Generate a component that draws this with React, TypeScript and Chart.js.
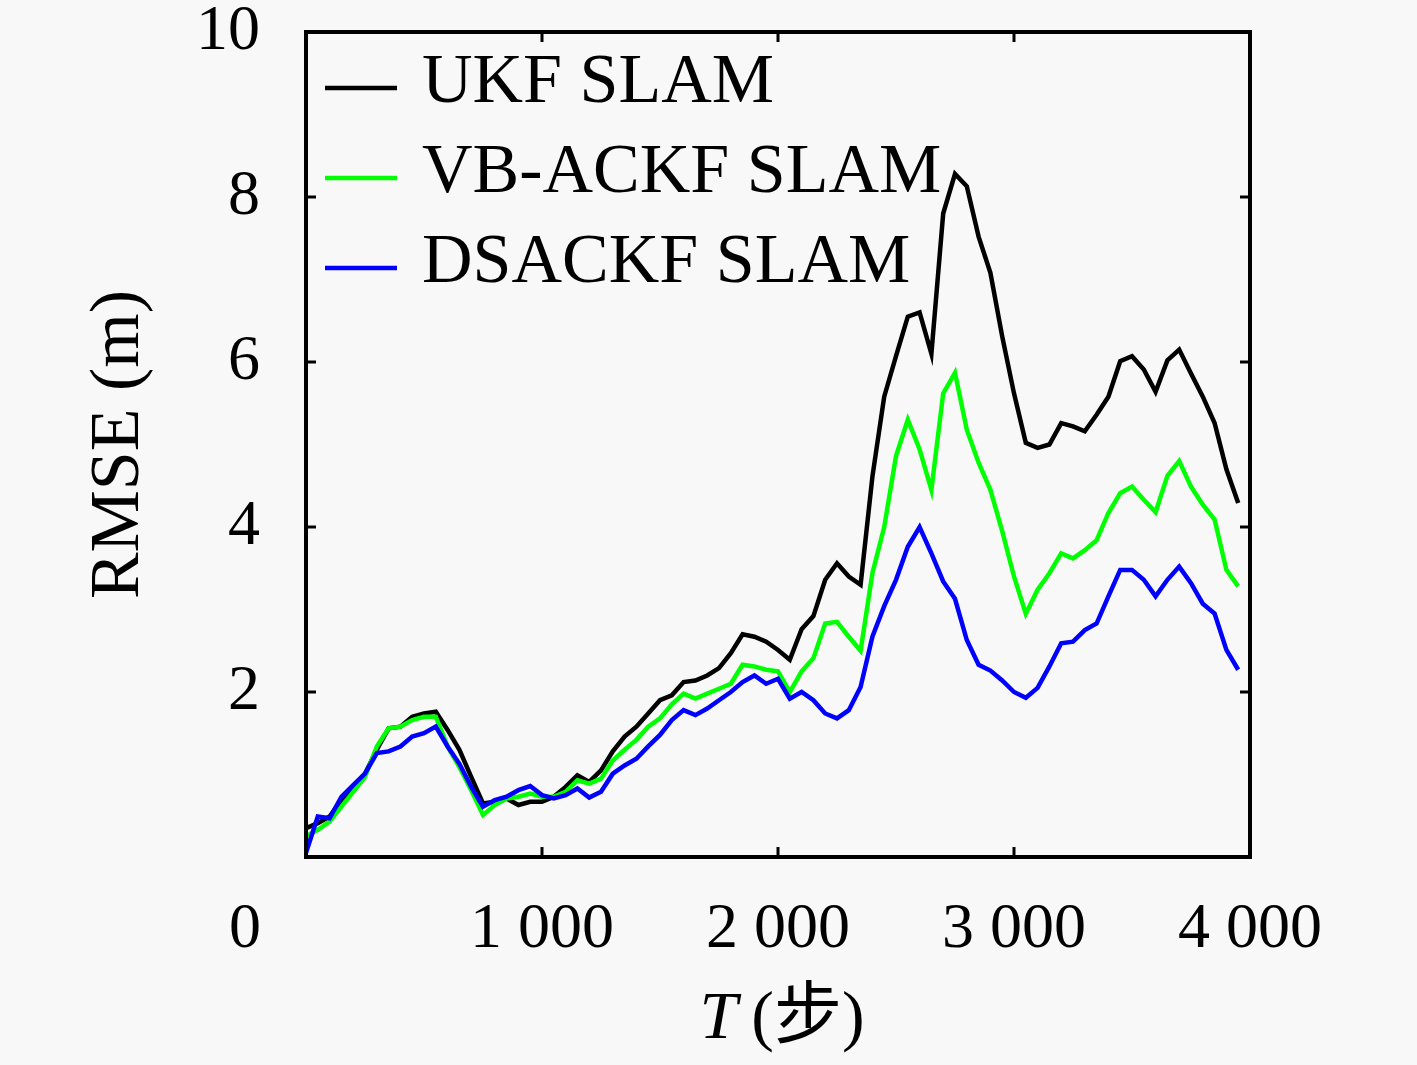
import { useEffect, useRef } from "react"
import { Chart, registerables } from "chart.js"

// Register Chart.js components
Chart.register(...registerables)

const SERIF = "'Liberation Serif', 'Noto Sans CJK SC', serif"

// Series (RMSE in metres, sampled every 50 steps from T = 0 to 3950)
const seriesLabels = ["UKF SLAM", "VB-ACKF SLAM", "DSACKF SLAM"]
const seriesColors = ["#000000", "#00ff00", "#0000ff"]

const ukf = [
  0.35, 0.41, 0.49, 0.69, 0.85, 1.01, 1.3, 1.56, 1.58, 1.7,
  1.74, 1.76, 1.54, 1.3, 0.97, 0.65, 0.67, 0.71, 0.63, 0.67,
  0.67, 0.73, 0.85, 0.99, 0.91, 1.05, 1.28, 1.46, 1.58, 1.74,
  1.9, 1.96, 2.12, 2.14, 2.2, 2.29, 2.47, 2.7, 2.67, 2.61,
  2.51, 2.39, 2.76, 2.92, 3.36, 3.56, 3.4, 3.3, 4.61, 5.58,
  6.07, 6.55, 6.6, 6.1, 7.8, 8.28, 8.13, 7.52, 7.08, 6.31,
  5.62, 5.02, 4.96, 5.0, 5.26, 5.22, 5.16, 5.36, 5.58, 6.01,
  6.07, 5.91, 5.64, 6.02, 6.15, 5.86, 5.58, 5.26, 4.7, 4.29,
]

const vbAckf = [
  0.25, 0.33, 0.43, 0.61, 0.79, 0.97, 1.34, 1.56, 1.58, 1.66,
  1.7, 1.7, 1.34, 1.09, 0.81, 0.51, 0.63, 0.71, 0.73, 0.77,
  0.73, 0.73, 0.79, 0.93, 0.89, 0.95, 1.17, 1.3, 1.42, 1.58,
  1.68, 1.85, 1.98, 1.92, 1.98, 2.04, 2.1, 2.33, 2.31, 2.27,
  2.25, 2.0, 2.25, 2.41, 2.83, 2.85, 2.67, 2.5, 3.44, 4.0,
  4.86, 5.3, 4.94, 4.45, 5.62, 5.87, 5.18, 4.78, 4.45, 3.95,
  3.4, 2.95, 3.24, 3.44, 3.68, 3.62, 3.72, 3.84, 4.17, 4.41,
  4.49, 4.33, 4.18, 4.62, 4.8, 4.49, 4.27, 4.09, 3.48, 3.28,
]

const dsAckf = [
  0.05, 0.49, 0.47, 0.73, 0.87, 1.01, 1.26, 1.28, 1.34, 1.46,
  1.5, 1.58, 1.34, 1.13, 0.85, 0.61, 0.69, 0.73, 0.81, 0.86,
  0.75, 0.71, 0.75, 0.83, 0.72, 0.79, 1.01, 1.11, 1.19, 1.34,
  1.48, 1.66, 1.78, 1.72, 1.8, 1.9, 2.0, 2.12, 2.2, 2.1,
  2.16, 1.92, 2.0, 1.9, 1.74, 1.68, 1.78, 2.06, 2.67, 3.04,
  3.36, 3.76, 4.0, 3.68, 3.34, 3.13, 2.63, 2.33, 2.26, 2.14,
  2.0, 1.93, 2.05, 2.31, 2.59, 2.61, 2.75, 2.83, 3.16, 3.48,
  3.48, 3.36, 3.16, 3.36, 3.52, 3.32, 3.07, 2.95, 2.51, 2.27,
]

const steps = ukf.map((_, i) => i * 50)

// Axis ticks
const xTickValues = [0, 1000, 2000, 3000, 4000]
const xTickLabels = ["0", "1 000", "2 000", "3 000", "4 000"]
const yTickValues = [0, 2, 4, 6, 8, 10]
const yTickLabels = ["", "2", "4", "6", "8", "10"]

const yTitle = "RMSE (m)"
const xTitleVar = "T"
const xTitleUnit = "(步)"

// frame, inward ticks, legend inside the plot, origin label and x title
const decorPlugin = {
  id: "decor",
  beforeDraw(chart: any) {
    const { ctx, width, height } = chart
    ctx.save()
    ctx.fillStyle = "#f8f8f8"
    ctx.fillRect(0, 0, width, height)
    ctx.restore()
  },
  afterDraw(chart: any) {
    const { ctx, chartArea: a, scales } = chart
    const xs = scales.x
    const ys = scales.y
    ctx.save()

    ctx.strokeStyle = "#000"
    ctx.lineWidth = 3
    ctx.beginPath()
    xs.ticks.forEach((t: any) => {
      const px = xs.getPixelForValue(t.value)
      ctx.moveTo(px, a.bottom)
      ctx.lineTo(px, a.bottom - 10)
      ctx.moveTo(px, a.top)
      ctx.lineTo(px, a.top + 10)
    })
    ys.ticks.forEach((t: any) => {
      const py = ys.getPixelForValue(t.value)
      ctx.moveTo(a.left, py)
      ctx.lineTo(a.left + 10, py)
      ctx.moveTo(a.right, py)
      ctx.lineTo(a.right - 10, py)
    })
    ctx.stroke()

    ctx.lineWidth = 4
    ctx.strokeRect(a.left, a.top, a.right - a.left, a.bottom - a.top)

    // legend
    ctx.font = `70px ${SERIF}`
    ctx.textAlign = "left"
    ctx.textBaseline = "middle"
    seriesLabels.forEach((label, i) => {
      const ly = a.top + 56 + i * 90
      ctx.strokeStyle = seriesColors[i]
      ctx.lineWidth = 4.5
      ctx.beginPath()
      ctx.moveTo(a.left + 19, ly)
      ctx.lineTo(a.left + 91, ly)
      ctx.stroke()
      ctx.fillStyle = "#000"
      ctx.fillText(label, a.left + 116, ly - 4)
    })

    // shared origin label
    ctx.font = `64px ${SERIF}`
    ctx.textAlign = "center"
    ctx.fillText(xTickLabels[0], a.left - 61, a.bottom + 73)

    // x axis title with italic variable
    const italicFont = `italic 68px ${SERIF}`
    const normalFont = `68px ${SERIF}`
    ctx.font = italicFont
    const wVar = ctx.measureText(xTitleVar).width
    ctx.font = normalFont
    const gap = 14
    const wUnit = ctx.measureText(xTitleUnit).width
    const total = wVar + gap + wUnit
    const cx = (a.left + a.right) / 2 + 4
    const ty = a.bottom + 163
    ctx.textAlign = "left"
    ctx.font = italicFont
    ctx.fillText(xTitleVar, cx - total / 2, ty)
    ctx.font = normalFont
    ctx.fillText(xTitleUnit, cx - total / 2 + wVar + gap, ty)

    ctx.restore()
  },
}

export default function App() {
  const chartRef = useRef<HTMLCanvasElement>(null)
  const chartInstance = useRef<Chart | null>(null)

  useEffect(() => {
    document.body.style.margin = "0"
    document.body.style.background = "#f8f8f8"
    if (!chartRef.current) return
    if (chartInstance.current) chartInstance.current.destroy()
    const ctx = chartRef.current.getContext("2d")
    if (!ctx) return

    const seriesData = [ukf, vbAckf, dsAckf]

    chartInstance.current = new Chart(ctx, {
      type: "line",
      data: {
        datasets: seriesData.map((vals, i) => ({
          label: seriesLabels[i],
          data: vals.map((v, j) => ({ x: steps[j], y: v })),
          borderColor: seriesColors[i],
          backgroundColor: seriesColors[i],
          borderWidth: 4.5,
          pointRadius: 0,
          tension: 0,
          order: 2 - i,
        })),
      },
      options: {
        responsive: true,
        maintainAspectRatio: false,
        animation: false,
        layout: { padding: { top: 32, right: 167, left: 0, bottom: 0 } },
        plugins: {
          legend: { display: false },
          tooltip: { enabled: false },
        },
        scales: {
          x: {
            type: "linear",
            min: 0,
            max: 4000,
            afterBuildTicks: (scale: any) => {
              scale.ticks = xTickValues.map((value) => ({ value }))
            },
            afterFit: (scale: any) => {
              scale.height = 208
              scale.paddingLeft = 0
              scale.paddingRight = 0
            },
            ticks: {
              autoSkip: false,
              maxRotation: 0,
              padding: 35,
              color: "#000",
              font: { family: SERIF, size: 64 },
              callback: (value: any) => {
                const idx = xTickValues.indexOf(Number(value))
                return idx > 0 ? xTickLabels[idx] : ""
              },
            },
            grid: { display: false, drawTicks: false },
            border: { display: false },
          },
          y: {
            type: "linear",
            min: 0,
            max: 10,
            afterBuildTicks: (scale: any) => {
              scale.ticks = yTickValues.map((value) => ({ value }))
            },
            afterFit: (scale: any) => {
              scale.width = 306
              scale.paddingTop = 0
              scale.paddingBottom = 0
            },
            ticks: {
              padding: 46,
              color: "#000",
              font: { family: SERIF, size: 64 },
              callback: (value: any) => {
                const idx = yTickValues.indexOf(Number(value))
                return idx >= 0 ? yTickLabels[idx] : ""
              },
            },
            title: {
              display: true,
              text: yTitle,
              color: "#000",
              font: { family: SERIF, size: 70 },
              padding: { top: 78, bottom: 0 },
            },
            grid: { display: false, drawTicks: false },
            border: { display: false },
          },
        },
      },
      plugins: [decorPlugin],
    })

    return () => {
      if (chartInstance.current) {
        chartInstance.current.destroy()
        chartInstance.current = null
      }
    }
  }, [])

  return (
    <div style={{ width: 1417, height: 1065, position: "relative", background: "#f8f8f8" }}>
      <canvas ref={chartRef} aria-label="RMSE chart"></canvas>
    </div>
  )
}
